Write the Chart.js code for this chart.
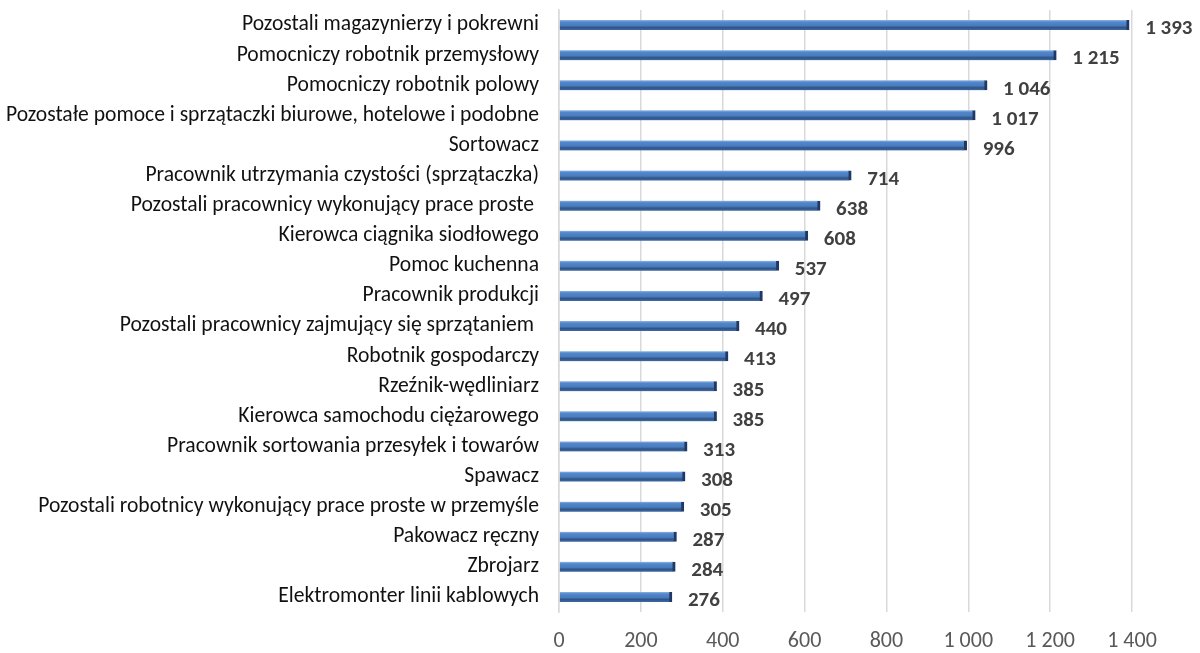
<!DOCTYPE html>
<html>
<head>
<meta charset="utf-8">
<script src="https://cdn.jsdelivr.net/npm/chart.js@4.4.1/dist/chart.umd.min.js"></script>
<style>
  html, body { margin: 0; padding: 0; background: #ffffff; }
  #wrap { width: 1200px; height: 653px; position: relative; }
</style>
</head>
<body>
<div id="wrap"><canvas id="c" width="1200" height="653"></canvas></div>
<script>
const categories = [
  "Pozostali magazynierzy i pokrewni",
  "Pomocniczy robotnik przemysłowy",
  "Pomocniczy robotnik polowy",
  "Pozostałe pomoce i sprzątaczki biurowe, hotelowe i podobne",
  "Sortowacz",
  "Pracownik utrzymania czystości (sprzątaczka)",
  "Pozostali pracownicy wykonujący prace proste ",
  "Kierowca ciągnika siodłowego",
  "Pomoc kuchenna",
  "Pracownik produkcji",
  "Pozostali pracownicy zajmujący się sprzątaniem ",
  "Robotnik gospodarczy",
  "Rzeźnik-wędliniarz",
  "Kierowca samochodu ciężarowego",
  "Pracownik sortowania przesyłek i towarów",
  "Spawacz",
  "Pozostali robotnicy wykonujący prace proste w przemyśle",
  "Pakowacz ręczny",
  "Zbrojarz",
  "Elektromonter linii kablowych"
];
const values = [1393, 1215, 1046, 1017, 996, 714, 638, 608, 537, 497, 440, 413, 385, 385, 313, 308, 305, 287, 284, 276];
const xTicks = [0, 200, 400, 600, 800, 1000, 1200, 1400];

const FONT = "Carlito, Calibri, Lato, 'Open Sans', sans-serif";
function fmt(v) {
  return String(v).replace(/\B(?=(\d{3})+(?!\d))/g, " ");
}

function barGradient(context) {
  const chart = context.chart;
  const yScale = chart.scales && chart.scales.y;
  if (!yScale || context.dataIndex == null) return "#4f81bd";
  const yc = yScale.getPixelForValue(context.dataIndex);
  if (!isFinite(yc)) return "#4f81bd";
  const g = chart.ctx.createLinearGradient(0, yc - 5, 0, yc + 5);
  g.addColorStop(0, "#8fb3e3");
  g.addColorStop(0.2, "#5187cc");
  g.addColorStop(0.55, "#4a7cbd");
  g.addColorStop(0.75, "#2f5486");
  g.addColorStop(1, "#3f6aa5");
  return g;
}

const valueLabels = {
  id: "valueLabels",
  afterDatasetsDraw(chart) {
    const ctx = chart.ctx;
    const meta = chart.getDatasetMeta(0);
    ctx.save();
    ctx.font = "bold 21px " + FONT;
    ctx.fillStyle = "#404040";
    ctx.textAlign = "left";
    ctx.textBaseline = "middle";
    meta.data.forEach((el, i) => {
      ctx.fillText(fmt(values[i]), el.x + 16, el.y + 4);
    });
    ctx.restore();
  }
};

new Chart(document.getElementById("c"), {
  type: "bar",
  data: {
    labels: categories,
    datasets: [{
      data: values,
      backgroundColor: barGradient,
      borderColor: "#1f3864",
      borderWidth: { top: 0, right: 3, bottom: 0, left: 0 },
      borderSkipped: false,
      barThickness: 10
    }]
  },
  options: {
    indexAxis: "y",
    responsive: false,
    animation: false,
    layout: { padding: { top: 10, right: 68, bottom: 0, left: 0 } },
    plugins: {
      legend: { display: false },
      tooltip: { enabled: false }
    },
    scales: {
      x: {
        min: 0,
        max: 1400,
        afterBuildTicks(scale) { scale.ticks = xTicks.map(v => ({ value: v })); },
        afterFit(scale) { scale.height = 41; scale.paddingLeft = 0; scale.paddingRight = 0; },
        grid: { color: "#d9d9d9", lineWidth: 1.5, drawTicks: false },
        border: { display: false },
        ticks: {
          color: "#595959",
          font: { family: FONT, size: 22 },
          padding: 16,
          callback: (v) => fmt(v)
        }
      },
      y: {
        afterFit(scale) { scale.width = 559; scale.paddingTop = 0; scale.paddingBottom = 0; },
        grid: { display: false, drawTicks: false },
        border: { display: true, color: "#d9d9d9", width: 1.5 },
        ticks: {
          color: "#111111",
          font: { family: FONT, size: 21.6 },
          padding: 20,
          autoSkip: false
        }
      }
    }
  },
  plugins: [valueLabels]
});
</script>
</body>
</html>
